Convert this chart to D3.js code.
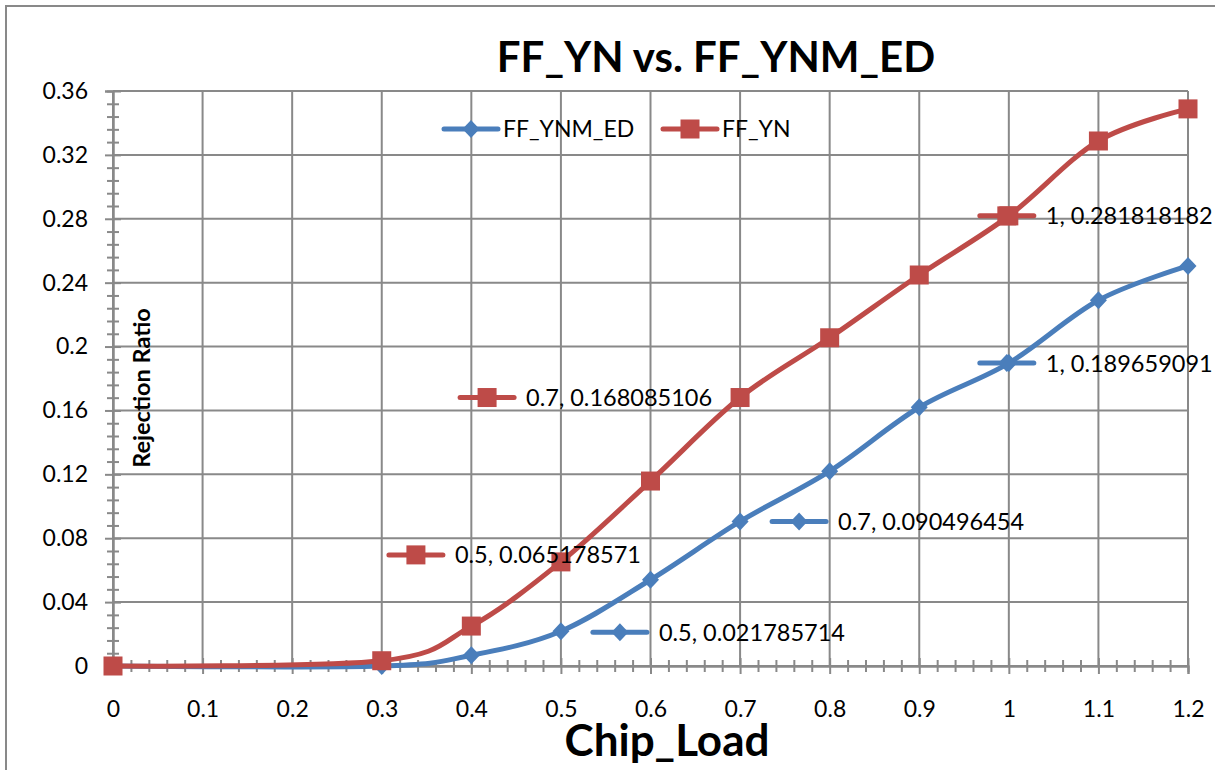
<!DOCTYPE html>
<html>
<head>
<meta charset="utf-8">
<script src="https://cdn.jsdelivr.net/npm/d3@7"></script>
<style>
  html, body { margin: 0; padding: 0; background: #fff; }
  svg { display: block; font-family: Lato, "Open Sans", sans-serif; }
</style>
</head>
<body>
<svg id="chart" width="1215" height="770"></svg>
<script>
// Chip load values (x) shared by both series
const chipLoad = [0, 0.3, 0.4, 0.5, 0.6, 0.7, 0.8, 0.9, 1, 1.1, 1.2];
// Rejection ratio per series
const ffYnmEd = [0, 0, 0.0067, 0.021785714, 0.054, 0.090496454, 0.122, 0.162, 0.189659091, 0.229, 0.2505];
const ffYn    = [0, 0.0033, 0.025, 0.065178571, 0.1158, 0.168085106, 0.2055, 0.2448, 0.281818182, 0.3287, 0.3488];
// Axis ticks
const xTicks = [0, 0.1, 0.2, 0.3, 0.4, 0.5, 0.6, 0.7, 0.8, 0.9, 1, 1.1, 1.2];
const yTicks = [0, 0.04, 0.08, 0.12, 0.16, 0.2, 0.24, 0.28, 0.32, 0.36];
const seriesNames = ["FF_YNM_ED", "FF_YN"];

const svg = d3.select("#chart");
const grey = "#898989";
const colors = { "FF_YNM_ED": "#4A7EBB", "FF_YN": "#BE4B48" };

const x = d3.scaleLinear().domain([0, 1.2]).range([113, 1188]);
const y = d3.scaleLinear().domain([0, 0.36]).range([666, 91]);

// chart frame
svg.append("rect").attr("x", 6).attr("y", 6).attr("width", 1300).attr("height", 900)
  .attr("fill", "none").attr("stroke", grey).attr("stroke-width", 2);

// gridlines
const grid = svg.append("g").attr("stroke", grey).attr("stroke-width", 2);
grid.selectAll(".gy").data(yTicks).join("line")
  .attr("x1", x(0)).attr("x2", x(1.2)).attr("y1", d => y(d)).attr("y2", d => y(d));
grid.selectAll(".gx").data(xTicks).join("line")
  .attr("y1", y(0)).attr("y2", y(0.36)).attr("x1", d => x(d)).attr("x2", d => x(d));

// minor ticks
const yMinor = d3.range(0, 46).filter(i => i % 5 !== 0).map(i => i * 0.008);
const xMinor = d3.range(0, 61).filter(i => i % 5 !== 0).map(i => i * 0.02);

function styleAxis(g) {
  g.select(".domain").attr("stroke", grey).attr("stroke-width", 2);
  g.selectAll(".tick line").attr("stroke", grey).attr("stroke-width", 2);
  g.selectAll("text").attr("fill", "#000").attr("font-family", "Lato, sans-serif");
}

// y axis (cross ticks)
const yAxisMinor = svg.append("g").attr("transform", `translate(${x(0)},0)`)
  .call(d3.axisLeft(y).tickValues(yMinor).tickSize(6).tickFormat(""));
yAxisMinor.call(styleAxis);
yAxisMinor.selectAll(".tick line").attr("x2", -6).attr("x1", 6);
const yAxis = svg.append("g").attr("transform", `translate(${x(0)},0)`)
  .call(d3.axisLeft(y).tickValues(yTicks).tickSize(8).tickPadding(18).tickFormat(d => String(d)));
yAxis.call(styleAxis);
yAxis.selectAll(".tick line").attr("x2", -8).attr("x1", 8);
yAxis.selectAll("text").attr("font-size", 23).attr("x", -25);

// x axis (cross ticks)
const xAxisMinor = svg.append("g").attr("transform", `translate(0,${y(0)})`)
  .call(d3.axisBottom(x).tickValues(xMinor).tickSize(6).tickFormat(""));
xAxisMinor.call(styleAxis);
xAxisMinor.selectAll(".tick line").attr("y1", -6).attr("y2", 6);
const xAxis = svg.append("g").attr("transform", `translate(0,${y(0)})`)
  .call(d3.axisBottom(x).tickValues(xTicks).tickSize(8).tickFormat(d => String(d)));
xAxis.call(styleAxis);
xAxis.selectAll(".tick line").attr("y1", -8).attr("y2", 8);
xAxis.selectAll("text").attr("font-size", 23).attr("y", 0).attr("dy", "2.2em");

// series
const series = [
  { name: "FF_YNM_ED", values: ffYnmEd, marker: "diamond" },
  { name: "FF_YN", values: ffYn, marker: "square" }
];
const line = d3.line().x(d => x(d[0])).y(d => y(d[1])).curve(d3.curveCardinal.tension(0));

function drawMarker(g, kind, cx, cy, color) {
  if (kind === "square") {
    g.append("rect").attr("x", cx - 9.5).attr("y", cy - 9.5).attr("width", 19).attr("height", 19)
      .attr("fill", color);
  } else {
    g.append("path").attr("d", `M${cx},${cy - 9}L${cx + 8.5},${cy}L${cx},${cy + 9}L${cx - 8.5},${cy}Z`)
      .attr("fill", color);
  }
}

series.forEach(s => {
  const pts = chipLoad.map((c, i) => [c, s.values[i]]);
  const col = colors[s.name];
  svg.append("path").datum(pts).attr("d", line)
    .attr("fill", "none").attr("stroke", col).attr("stroke-width", 5).attr("stroke-linejoin", "round");
  const mg = svg.append("g");
  pts.forEach(p => drawMarker(mg, s.marker, x(p[0]), y(p[1]), col));
});

// legend key: short line with marker
function legendKey(g, kind, cx, cy, color) {
  g.append("line").attr("x1", cx - 27).attr("x2", cx + 27).attr("y1", cy).attr("y2", cy)
    .attr("stroke", color).attr("stroke-width", 5).attr("stroke-linecap", "round");
  drawMarker(g, kind, cx, cy, color);
}

// data labels: series index, point index, key offset from the point
const labelPoints = [
  { s: 1, i: 3, dx: -145, dy: -7 },
  { s: 1, i: 5, dx: -253, dy: 0 },
  { s: 1, i: 8, dx: -2, dy: 0 },
  { s: 0, i: 3, dx: 59, dy: 1 },
  { s: 0, i: 5, dx: 59, dy: 0 },
  { s: 0, i: 8, dx: -2, dy: 0 }
];
const lg = svg.append("g");
labelPoints.forEach(l => {
  const s = series[l.s];
  const px = x(chipLoad[l.i]), py = y(s.values[l.i]);
  const kx = px + l.dx, ky = py + l.dy;
  legendKey(lg, s.marker, kx, ky, colors[s.name]);
  lg.append("text").attr("x", kx + 39).attr("y", ky).attr("dy", "0.36em")
    .attr("font-size", 23.5).attr("fill", "#000")
    .text(`${chipLoad[l.i]}, ${s.values[l.i]}`);
});

// legend
const legend = svg.append("g");
const legendX = [471, 690];
series.forEach((s, k) => {
  legendKey(legend, s.marker, legendX[k], 129, colors[s.name]);
  legend.append("text").attr("x", legendX[k] + 32).attr("y", 129).attr("dy", "0.36em")
    .attr("font-size", 23).attr("fill", "#000").text(seriesNames[k]);
});

// titles
svg.append("text").attr("x", 716).attr("y", 72).attr("text-anchor", "middle")
  .attr("font-size", 42).attr("font-weight", "bold").text("FF_YN vs. FF_YNM_ED");
svg.append("text").attr("x", 667).attr("y", 756).attr("text-anchor", "middle")
  .attr("font-size", 44).attr("font-weight", "bold").text("Chip_Load");
svg.append("text").attr("transform", "translate(150,388) rotate(-90)").attr("text-anchor", "middle")
  .attr("font-size", 23.5).attr("font-weight", "bold").text("Rejection Ratio");
</script>
</body>
</html>
